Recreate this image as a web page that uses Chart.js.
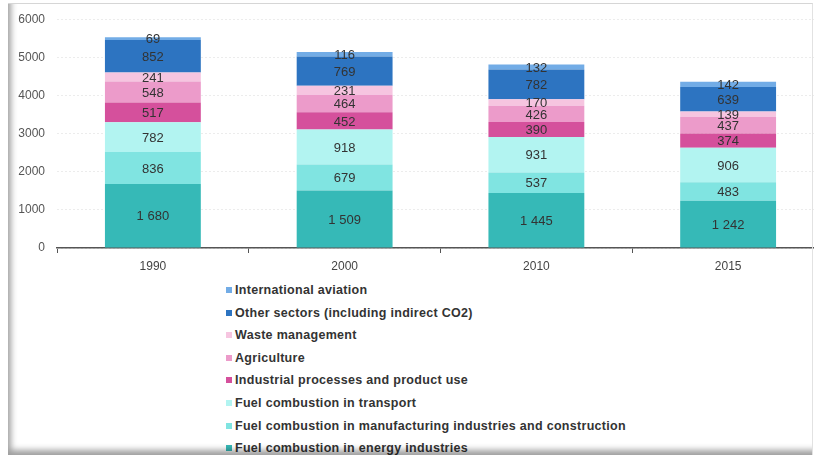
<!DOCTYPE html>
<html>
<head>
<meta charset="utf-8">
<script src="https://cdn.jsdelivr.net/npm/chart.js@4/dist/chart.umd.min.js"></script>
<style>
  html, body { margin: 0; padding: 0; background: #fff; }
  #wrap { position: relative; width: 814px; height: 457px; overflow: hidden; font-family: "Liberation Sans", Arial, sans-serif; }
  #chart { position: absolute; left: 0; top: 0; }
  #frame {
    position: absolute; left: 8px; top: 3px; width: 804px; height: 451px;
    border-top: 1px solid #d6d6d6; border-right: 1px solid #e2e2e2;
    box-shadow: inset 7px -9px 6px -4px rgba(0,0,0,0.38);
    pointer-events: none; z-index: 2;
  }
  #legend { position: absolute; left: 226px; top: 279px; margin: 0; padding: 0; list-style: none; z-index: 1; }
  #legend li { height: 22.6px; line-height: 22.6px; font-size: 12.5px; font-weight: bold; color: #333; white-space: nowrap; letter-spacing: 0.3px; }
  #legend span { display: inline-block; width: 6px; height: 6px; margin-right: 3px; vertical-align: 1px; }
</style>
</head>
<body>
<div id="wrap">
  <canvas id="chart" width="830" height="278"></canvas>
  <ul id="legend"></ul>
  <div id="frame"></div>
</div>
<script>
// years on the x axis
const years = ['1990', '2000', '2010', '2015'];

// sectors, bottom of the stack first
const sectors = [
  'Fuel combustion in energy industries',
  'Fuel combustion in manufacturing industries and construction',
  'Fuel combustion in transport',
  'Industrial processes and product use',
  'Agriculture',
  'Waste management',
  'Other sectors (including indirect CO2)',
  'International aviation'
];

const energy = [1680, 1509, 1445, 1242];
const manufacturing = [836, 679, 537, 483];
const transport = [782, 918, 931, 906];
const industrial = [517, 452, 390, 374];
const agriculture = [548, 464, 426, 437];
const waste = [241, 231, 170, 139];
const otherSectors = [852, 769, 782, 639];
const aviation = [69, 116, 132, 142];

const yTicks = [0, 1000, 2000, 3000, 4000, 5000, 6000];

const colors = ['#36b9b7', '#80e4e1', '#b2f4f1', '#d5509c', '#ec9bca', '#f6c5e0', '#2d74c1', '#72ace6'];

const series = [energy, manufacturing, transport, industrial, agriculture, waste, otherSectors, aviation];

const fmt = (v) => String(v).replace(/\B(?=(\d{3})+(?!\d))/g, ' ');

// value written in the middle of every segment
const segmentLabels = {
    id: 'segmentLabels',
    afterDatasetsDraw(chart) {
        const ctx = chart.ctx;
        ctx.save();
        ctx.font = '13px "Liberation Sans", Arial, sans-serif';
        ctx.fillStyle = '#333';
        ctx.textAlign = 'center';
        ctx.textBaseline = 'middle';
        chart.data.datasets.forEach((ds, i) => {
            chart.getDatasetMeta(i).data.forEach((bar, j) => {
                ctx.fillText(fmt(ds.data[j]), bar.x, (bar.y + bar.base) / 2 + 1);
            });
        });
        ctx.restore();
    }
};

const chart = new Chart(document.getElementById('chart'), {
    type: 'bar',
    data: {
        labels: years,
        datasets: series.map((data, i) => ({
            label: sectors[i],
            data: data,
            backgroundColor: colors[i],
            borderWidth: 0,
            barPercentage: 0.5,
            categoryPercentage: 1
        }))
    },
    options: {
        responsive: false,
        animation: false,
        layout: { padding: { top: 18, right: 6, left: 0, bottom: 0 } },
        plugins: {
            legend: { display: false },
            tooltip: { enabled: false }
        },
        scales: {
            x: {
                stacked: true,
                afterFit: (s) => { s.height = 30; },
                grid: { drawOnChartArea: false, tickLength: 5, color: '#555' },
                border: { color: '#555', width: 1.5 },
                ticks: { color: '#444', padding: 6, font: { size: 12, family: '"Liberation Sans", Arial, sans-serif' } }
            },
            y: {
                stacked: true,
                min: 0,
                max: 6000,
                afterFit: (s) => { s.width = 57; },
                afterBuildTicks: (s) => { s.ticks = yTicks.map(v => ({ value: v })); },
                grid: { color: '#ececec', drawTicks: false },
                border: { display: false, dash: [2, 2] },
                ticks: {
                    color: '#555', padding: 12,
                    font: { size: 12, family: '"Liberation Sans", Arial, sans-serif' },
                    callback: (v) => String(v)
                }
            }
        }
    },
    plugins: [segmentLabels]
});

// vertical legend, top of the stack first
const legend = document.getElementById('legend');
chart.data.datasets.slice().reverse().forEach((ds) => {
    const li = document.createElement('li');
    const box = document.createElement('span');
    box.style.background = ds.backgroundColor;
    li.appendChild(box);
    li.appendChild(document.createTextNode(ds.label));
    legend.appendChild(li);
});
</script>
</body>
</html>
